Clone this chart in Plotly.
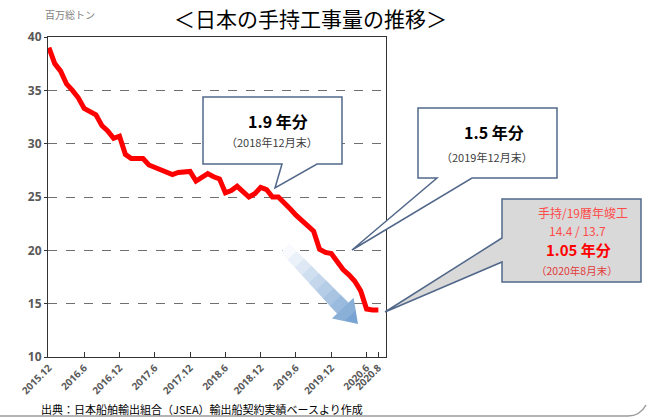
import plotly.graph_objects as go
import math

# ---- data ----
months = list(range(57))  # 2015.12 ... 2020.8 (monthly)
backlog = [39.0, 37.5, 36.8, 35.6, 35.0, 34.3, 33.3, 33.0, 32.7, 31.7,
           31.2, 30.5, 30.7, 29.0, 28.6, 28.6, 28.6, 28.0, 27.8, 27.5,
           27.3, 27.1, 27.3, 27.4, 27.4, 26.5, 26.9, 27.2, 26.9, 26.7,
           25.4, 25.6, 26.0, 25.5, 25.0, 25.3, 25.9, 25.7, 25.0, 25.0,
           24.5, 23.9, 23.3, 22.8, 22.3, 21.8, 20.1, 19.8, 19.7, 18.9,
           18.2, 17.7, 17.1, 16.2, 14.5, 14.4, 14.4]
tick_pos = [0, 6, 12, 18, 24, 30, 36, 42, 48, 54, 56]
tick_labels = ["2015.12", "2016.6", "2016.12", "2017.6", "2017.12", "2018.6",
               "2018.12", "2019.6", "2019.12", "2020.6", "2020.8"]
y_ticks = [10, 15, 20, 25, 30, 35, 40]

JP = "Noto Sans CJK JP"
W, H = 647, 418
L, R, T, B = 48, 386, 37, 357

def px(x):
    return (x - L) / (R - L)

def py(y):
    return (B - y) / (B - T)

def path(points):
    return "M " + " L ".join(f"{px(x):.5f},{py(y):.5f}" for x, y in points) + " Z"

fig = go.Figure()
fig.add_trace(go.Scatter(x=months, y=backlog, mode="lines",
                         line=dict(color="#ff0000", width=5),
                         hoverinfo="skip", showlegend=False))

shapes = []
# gradient arrow (decoration)
sx, sy = 285, 248
tx, ty = 358, 324
Lr = math.hypot(tx - sx, ty - sy)
ux, uy = (tx - sx) / Lr, (ty - sy) / Lr
nx, ny = -uy, ux
head_len, head_hw = 22, 15
N = 8
shaft_len = Lr - head_len
c0 = (252, 253, 255)
c1 = (120, 163, 210)
def col(f):
    return "rgb(%d,%d,%d)" % tuple(int(c0[i] + (c1[i] - c0[i]) * f) for i in range(3))
def pt(t, w):
    return (sx + ux * t + nx * w, sy + uy * t + ny * w)
for i in range(N):
    t0 = shaft_len * i / N
    t1 = shaft_len * (i + 1) / N + 0.6
    w0 = 6 + 2 * (t0 / shaft_len)
    w1 = 6 + 2 * (min(t1, shaft_len) / shaft_len)
    pts = [pt(t0, -w0), pt(t1, -w1), pt(t1, w1), pt(t0, w0)]
    shapes.append(dict(type="path", path=path(pts), xref="paper", yref="paper",
                       fillcolor=col((i + 0.3) / (N + 2)), line=dict(width=0), layer="above"))
hp1 = [pt(shaft_len, -head_hw), pt(shaft_len, head_hw), pt(shaft_len + head_len * 0.5, head_hw * 0.5),
       pt(shaft_len + head_len * 0.5, -head_hw * 0.5)]
hp2 = [pt(shaft_len + head_len * 0.5 - 0.5, -head_hw * 0.52), pt(shaft_len + head_len * 0.5 - 0.5, head_hw * 0.52), pt(Lr, 0)]
shapes.append(dict(type="path", path=path(hp1), xref="paper", yref="paper",
                   fillcolor=col((N + 0.5) / (N + 2)), line=dict(width=0), layer="above"))
shapes.append(dict(type="path", path=path(hp2), xref="paper", yref="paper",
                   fillcolor=col(1.0), line=dict(width=0), layer="above"))

border = "#52688a"
shapes.append(dict(type="path", xref="paper", yref="paper", layer="above",
                   path=path([(203, 97), (342, 97), (342, 164), (317, 164), (275, 188), (282, 164), (203, 164)]),
                   fillcolor="white", line=dict(color=border, width=1.5)))
shapes.append(dict(type="path", xref="paper", yref="paper", layer="above",
                   path=path([(418, 108), (557, 108), (557, 178), (472, 178), (352, 250), (437, 178), (418, 178)]),
                   fillcolor="white", line=dict(color=border, width=1.5)))
shapes.append(dict(type="path", xref="paper", yref="paper", layer="above",
                   path=path([(502, 199), (641, 199), (641, 282), (502, 282), (502, 262), (385, 312), (502, 238)]),
                   fillcolor="#d9d9d9", line=dict(color=border, width=1.5)))
shapes.append(dict(type="path", xref="paper", yref="paper", layer="above",
                   path="M %f,%f L %f,%f Q %f,%f %f,%f" % (px(0), py(416), px(628), py(416), px(640), py(416), px(646), py(405)),
                   line=dict(color="#9a9a9a", width=1.5)))

ann = []
def text(x, y, s, size, color="black", family=JP):
    ann.append(dict(x=px(x), y=py(y), xref="paper", yref="paper", text=s, showarrow=False,
                    xanchor="center", yanchor="middle", font=dict(size=size, color=color, family=family)))

text(310, 18, "＜日本の手持工事量の推移＞", 21)
text(70, 15, "百万総トン", 10, "#7f7f7f")
text(202, 409, "出典：日本船舶輸出組合（JSEA）輸出船契約実績ベースより作成", 11)
text(278, 121, "<b>1.9 年分</b>", 16)
text(272, 142, "（2018年12月末）", 11, "#404040")
text(494, 132, "<b>1.5 年分</b>", 16)
text(487, 157, "（2019年12月末）", 11, "#404040")
text(583, 212, "手持/19暦年竣工", 12, "#ff4a4a")
text(577, 230, "14.4 / 13.7", 12, "#ff4a4a")
text(578, 249, "<b>1.05 年分</b>", 15, "#ff0000")
text(577, 270, "（2020年8月末）", 10.5, "#e23a3a")

fig.update_layout(
    width=W, height=H,
    margin=dict(l=L, r=W - R, t=T, b=H - B),
    paper_bgcolor="white", plot_bgcolor="white",
    shapes=shapes, annotations=ann,
    font=dict(family=JP),
    xaxis=dict(range=[-0.15, 57.3], tickvals=tick_pos, ticktext=tick_labels,
               tickangle=-45, ticks="inside", ticklen=5, tickcolor="#333",
               tickfont=dict(size=10, color="#595959", family="Open Sans", weight="bold"),
               showgrid=False, zeroline=False, showline=True, linecolor="#333",
               linewidth=1.2, mirror=True),
    yaxis=dict(range=[10, 40], tickvals=y_ticks, ticks="outside", ticklen=3, tickcolor="#333",
               tickfont=dict(size=12, color="#595959", family="Open Sans", weight="bold"),
               showgrid=True, gridcolor="#707070", griddash="dash", gridwidth=1,
               zeroline=False, showline=True, linecolor="#333", linewidth=1.2, mirror=True),
)

fig.write_html("out.html")
